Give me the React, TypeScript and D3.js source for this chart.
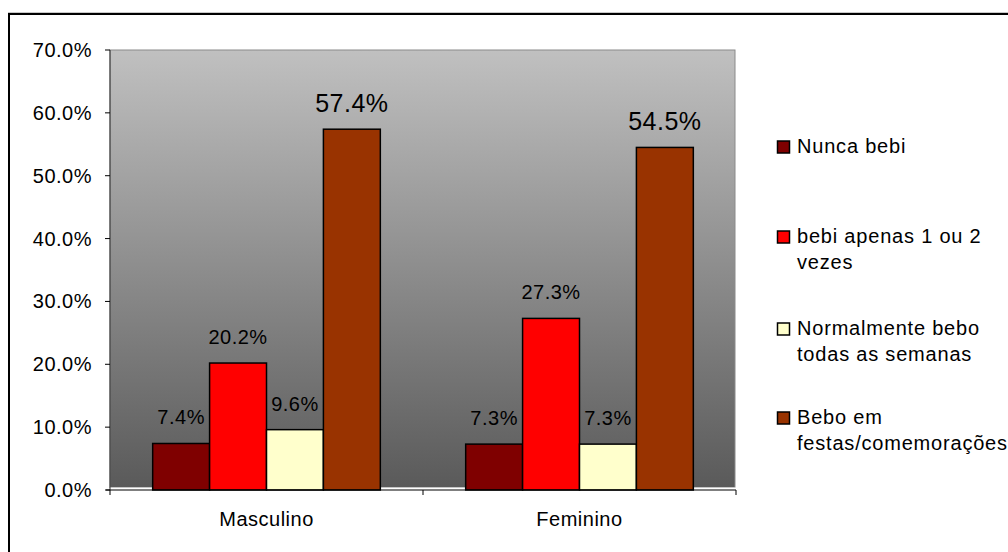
import React from "react";
import * as d3 from "d3";

const categories = ["Masculino", "Feminino"];
const seriesNames = [
  "Nunca bebi",
  "bebi apenas 1 ou 2 vezes",
  "Normalmente bebo todas as semanas",
  "Bebo em festas/comemorações",
];
const legendLines = [
  ["Nunca bebi"],
  ["bebi apenas 1 ou 2", "vezes"],
  ["Normalmente bebo", "todas as semanas"],
  ["Bebo em", "festas/comemorações"],
];
const nuncaBebi = [7.4, 7.3];
const apenasUmaOuDuas = [20.2, 27.3];
const todasSemanas = [9.6, 7.3];
const festas = [57.4, 54.5];
const seriesValues = [nuncaBebi, apenasUmaOuDuas, todasSemanas, festas];
const seriesColors = ["#7f0000", "#ff0000", "#ffffcc", "#993300"];
const yTicks = [0, 10, 20, 30, 40, 50, 60, 70];

const W = 1008;
const H = 552;
const plot = { left: 110, right: 736, top: 50, bottom: 490 };
const FONT = "'Liberation Sans', Arial, sans-serif";

export default function App() {
  const x0 = d3
    .scaleBand<string>()
    .domain(categories)
    .range([plot.left, plot.right])
    .padding(0);
  const x1 = d3
    .scaleBand<string>()
    .domain(seriesNames)
    .range([0, x0.bandwidth()])
    .paddingInner(0)
    .paddingOuter(0.75);
  const y = d3.scaleLinear().domain([0, 70]).range([plot.bottom, plot.top]);
  const fmt = d3.format(".1f");

  const legendTop = [153, 243, 335, 424];

  return (
    <svg
      width={W}
      height={H}
      style={{ position: "absolute", left: 0, top: 0, background: "#fff" }}
      fontFamily={FONT}
    >
      <defs>
        <linearGradient id="plotGrad" x1="0" y1="0" x2="0" y2="1">
          <stop offset="0" stopColor="#c0c0c0" />
          <stop offset="1" stopColor="#5a5a5a" />
        </linearGradient>
      </defs>

      {/* outer chart frame */}
      <line x1={8} x2={W} y1={12.5} y2={12.5} stroke="#c8c8c8" strokeWidth={1} />
      <rect x={9} y={14} width={W + 50} height={H + 50} fill="none" stroke="#000" strokeWidth={2} />

      {/* plot area */}
      <rect
        x={plot.left}
        y={plot.top}
        width={plot.right - plot.left - 1}
        height={plot.bottom - plot.top - 2.5}
        fill="url(#plotGrad)"
        stroke="#8a8a8a"
        strokeWidth={1}
      />
      <line
        x1={plot.left}
        x2={plot.right}
        y1={plot.bottom - 1.5}
        y2={plot.bottom - 1.5}
        stroke="#ffffff"
        strokeWidth={2}
      />

      {/* y axis */}
      <line x1={plot.left} x2={plot.left} y1={plot.top} y2={plot.bottom} stroke="#333" strokeWidth={1} />
      {yTicks.map((t) => (
        <g key={t}>
          <line x1={plot.left - 5} x2={plot.left} y1={y(t)} y2={y(t)} stroke="#000" strokeWidth={1} />
          <text x={92} y={y(t) + 7} textAnchor="end" fontSize={20} letterSpacing={0.5} fill="#000">
            {fmt(t) + "%"}
          </text>
        </g>
      ))}

      {/* bars and value labels */}
      {categories.map((c, ci) => (
        <g key={c} transform={`translate(${x0(c)},0)`}>
          {seriesNames.map((s, si) => {
            const v = seriesValues[si][ci];
            const bx = x1(s) as number;
            const bw = x1.bandwidth();
            const big = si === 3;
            return (
              <g key={s}>
                <rect
                  x={bx}
                  y={y(v)}
                  width={bw}
                  height={plot.bottom - y(v)}
                  fill={seriesColors[si]}
                  stroke="#000"
                  strokeWidth={1.5}
                />
                <text
                  x={bx + bw / 2}
                  y={y(v) - (big ? 17.5 : 19)}
                  textAnchor="middle"
                  fontSize={big ? 25 : 20}
                  letterSpacing={0.5}
                  fill="#000"
                >
                  {fmt(v) + "%"}
                </text>
              </g>
            );
          })}
        </g>
      ))}

      {/* x axis */}
      <line x1={plot.left - 4} x2={plot.right} y1={plot.bottom} y2={plot.bottom} stroke="#000" strokeWidth={1} />
      {[...categories.map((c) => x0(c) as number), plot.right].map((xv, i) => (
        <line key={i} x1={xv} x2={xv} y1={plot.bottom} y2={plot.bottom + 5} stroke="#000" strokeWidth={1} />
      ))}
      {categories.map((c) => (
        <text
          key={c}
          x={(x0(c) as number) + x0.bandwidth() / 2}
          y={526}
          textAnchor="middle"
          fontSize={20}
          letterSpacing={0.5}
          fill="#000"
        >
          {c}
        </text>
      ))}

      {/* legend */}
      {legendLines.map((lines, i) => (
        <g key={i}>
          <rect
            x={777.5}
            y={legendTop[i] - 12}
            width={12}
            height={12}
            fill={seriesColors[i]}
            stroke="#000"
            strokeWidth={1.5}
          />
          {lines.map((ln, li) => (
            <text
              key={li}
              x={797}
              y={legendTop[i] + li * 26}
              fontSize={20}
              letterSpacing={0.8}
              fill="#000"
            >
              {ln}
            </text>
          ))}
        </g>
      ))}
    </svg>
  );
}
